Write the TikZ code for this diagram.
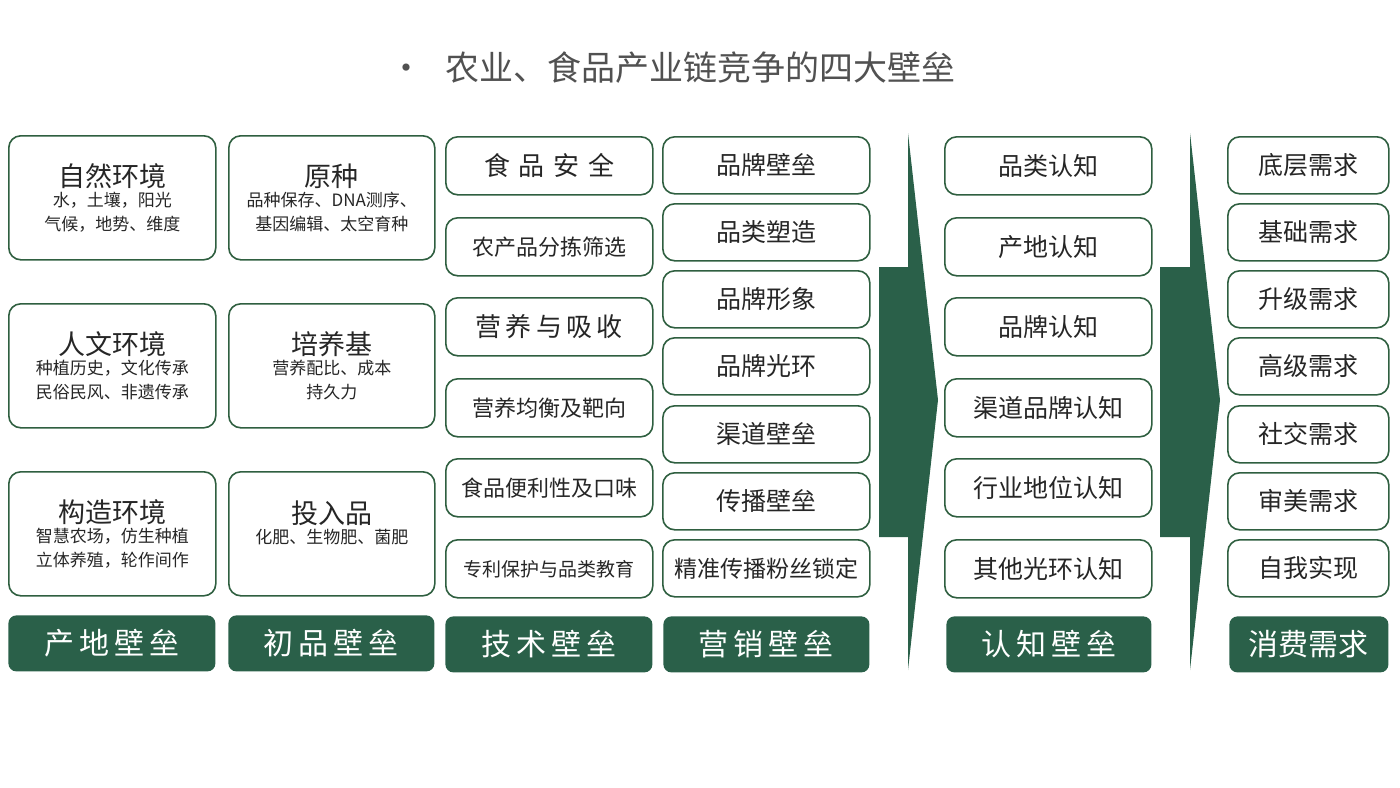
\documentclass[tikz,border=0pt]{standalone}
\usepackage{fontspec}
\setmainfont{Noto Sans CJK SC}
\definecolor{dg}{HTML}{2A6049}
\definecolor{bd}{HTML}{2F5F40}
\definecolor{tx}{HTML}{262626}
\tikzset{
  bx/.style={draw=bd,line width=0.8pt,rounded corners=6pt,fill=white},
  ft/.style={fill=dg,rounded corners=4pt,text=white},
  arr/.style={fill=dg,draw=none}
}
\newcommand{\mybox}[6]{%
  \node[bx,minimum width={(#4-#2)*0.5pt},minimum height={(#5-#3)*0.5pt},anchor=north west,inner sep=0pt,align=center,text=tx] (#1) at (#2,#3) {#6};}
\newcommand{\myft}[6]{%
  \node[ft,minimum width={(#4-#2)*0.5pt},minimum height={(#5-#3)*0.5pt},anchor=north west,inner sep=0pt,font=\fontsize{15}{18}\selectfont] (#1) at (#2,#3) {#6};}
\newcommand{\bgfnt}{\fontsize{13.5}{15}\selectfont}
\newcommand{\smfnt}{\fontsize{8.5}{9}\selectfont}
\begin{document}
\begin{tikzpicture}[x=0.5pt,y=-0.5pt]
\useasboundingbox (0,0) rectangle (1400,787);
\node[text=tx!80,font=\fontsize{17}{20}\selectfont,anchor=west] (title) at (382,68) {•\hspace{11pt}农业、食品产业链竞争的四大壁垒};
% col1
\mybox{a1}{8}{135}{215}{259}{\bgfnt 自然环境\\[-2pt]\smfnt 水，土壤，阳光\\\smfnt 气候，地势、维度}
\mybox{a2}{8}{303}{215}{427}{\bgfnt 人文环境\\[-2pt]\smfnt 种植历史，文化传承\\\smfnt 民俗民风、非遗传承}
\mybox{a3}{8}{471}{215}{595}{\bgfnt 构造环境\\[-2pt]\smfnt 智慧农场，仿生种植\\\smfnt 立体养殖，轮作间作}
\myft{fa}{8}{615}{215}{671}{产\,地\,壁\,垒}
% col2
\mybox{b1}{228}{135}{434}{259}{\bgfnt 原种\\[-2pt]\smfnt 品种保存、DNA测序、\\\smfnt 基因编辑、太空育种}
\mybox{b2}{228}{303}{434}{427}{\bgfnt 培养基\\[-2pt]\smfnt 营养配比、成本\\\smfnt 持久力}
\mybox{b3}{228}{471}{434}{595}{\bgfnt 投入品\\[-2pt]\smfnt 化肥、生物肥、菌肥\\\smfnt ~}
\myft{fb}{228}{615}{434}{671}{初\,品\,壁\,垒}
% col3
\mybox{c1}{445}{136}{652}{194}{\fontsize{13}{15}\selectfont 食\,\,品\,\,安\,\,全}
\mybox{c2}{445}{217}{652}{275}{\fontsize{11}{13}\selectfont 农产品分拣筛选}
\mybox{c3}{445}{297}{652}{355}{\fontsize{13}{15}\selectfont 营\,养\,与\,吸\,收}
\mybox{c4}{445}{378}{652}{436}{\fontsize{11}{13}\selectfont 营养均衡及靶向}
\mybox{c5}{445}{458}{652}{516}{\fontsize{11}{13}\selectfont 食品便利性及口味}
\mybox{c6}{445}{539}{652}{597}{\fontsize{9.5}{11}\selectfont 专利保护与品类教育}
\myft{fc}{445}{616}{652}{672}{技\,术\,壁\,垒}
% col4
\mybox{d1}{662}{136}{869}{193}{\fontsize{12.5}{15}\selectfont 品牌壁垒}
\mybox{d2}{662}{203}{869}{260}{\fontsize{12.5}{15}\selectfont 品类塑造}
\mybox{d3}{662}{270}{869}{327}{\fontsize{12.5}{15}\selectfont 品牌形象}
\mybox{d4}{662}{337}{869}{394}{\fontsize{12.5}{15}\selectfont 品牌光环}
\mybox{d5}{662}{405}{869}{462}{\fontsize{12.5}{15}\selectfont 渠道壁垒}
\mybox{d6}{662}{472}{869}{529}{\fontsize{12.5}{15}\selectfont 传播壁垒}
\mybox{d7}{662}{539}{869}{596}{\fontsize{11.5}{14}\selectfont 精准传播粉丝锁定}
\myft{fd}{663}{616}{869}{672}{营\,销\,壁\,垒}
% arrow 1
\fill[arr] (879,267) -- (908,267) -- (908,133) -- (938,400) -- (908,670) -- (908,537) -- (879,537) -- cycle;
% col5
\mybox{e1}{944}{136}{1151}{194}{\fontsize{12.5}{15}\selectfont 品类认知}
\mybox{e2}{944}{217}{1151}{275}{\fontsize{12.5}{15}\selectfont 产地认知}
\mybox{e3}{944}{297}{1151}{355}{\fontsize{12.5}{15}\selectfont 品牌认知}
\mybox{e4}{944}{378}{1151}{436}{\fontsize{12.5}{15}\selectfont 渠道品牌认知}
\mybox{e5}{944}{458}{1151}{516}{\fontsize{12.5}{15}\selectfont 行业地位认知}
\mybox{e6}{944}{539}{1151}{597}{\fontsize{12.5}{15}\selectfont 其他光环认知}
\myft{fe}{946}{616}{1151}{672}{认\,知\,壁\,垒}
% arrow 2
\fill[arr] (1160,267) -- (1190,267) -- (1190,133) -- (1220,400) -- (1190,670) -- (1190,537) -- (1160,537) -- cycle;
% col6
\mybox{g1}{1227}{136}{1388}{193}{\fontsize{12.5}{15}\selectfont 底层需求}
\mybox{g2}{1227}{203}{1388}{260}{\fontsize{12.5}{15}\selectfont 基础需求}
\mybox{g3}{1227}{270}{1388}{327}{\fontsize{12.5}{15}\selectfont 升级需求}
\mybox{g4}{1227}{337}{1388}{394}{\fontsize{12.5}{15}\selectfont 高级需求}
\mybox{g5}{1227}{405}{1388}{462}{\fontsize{12.5}{15}\selectfont 社交需求}
\mybox{g6}{1227}{472}{1388}{529}{\fontsize{12.5}{15}\selectfont 审美需求}
\mybox{g7}{1227}{539}{1388}{596}{\fontsize{12.5}{15}\selectfont 自我实现}
\myft{fg}{1229}{616}{1388}{672}{消费需求}
\end{tikzpicture}
\end{document}
